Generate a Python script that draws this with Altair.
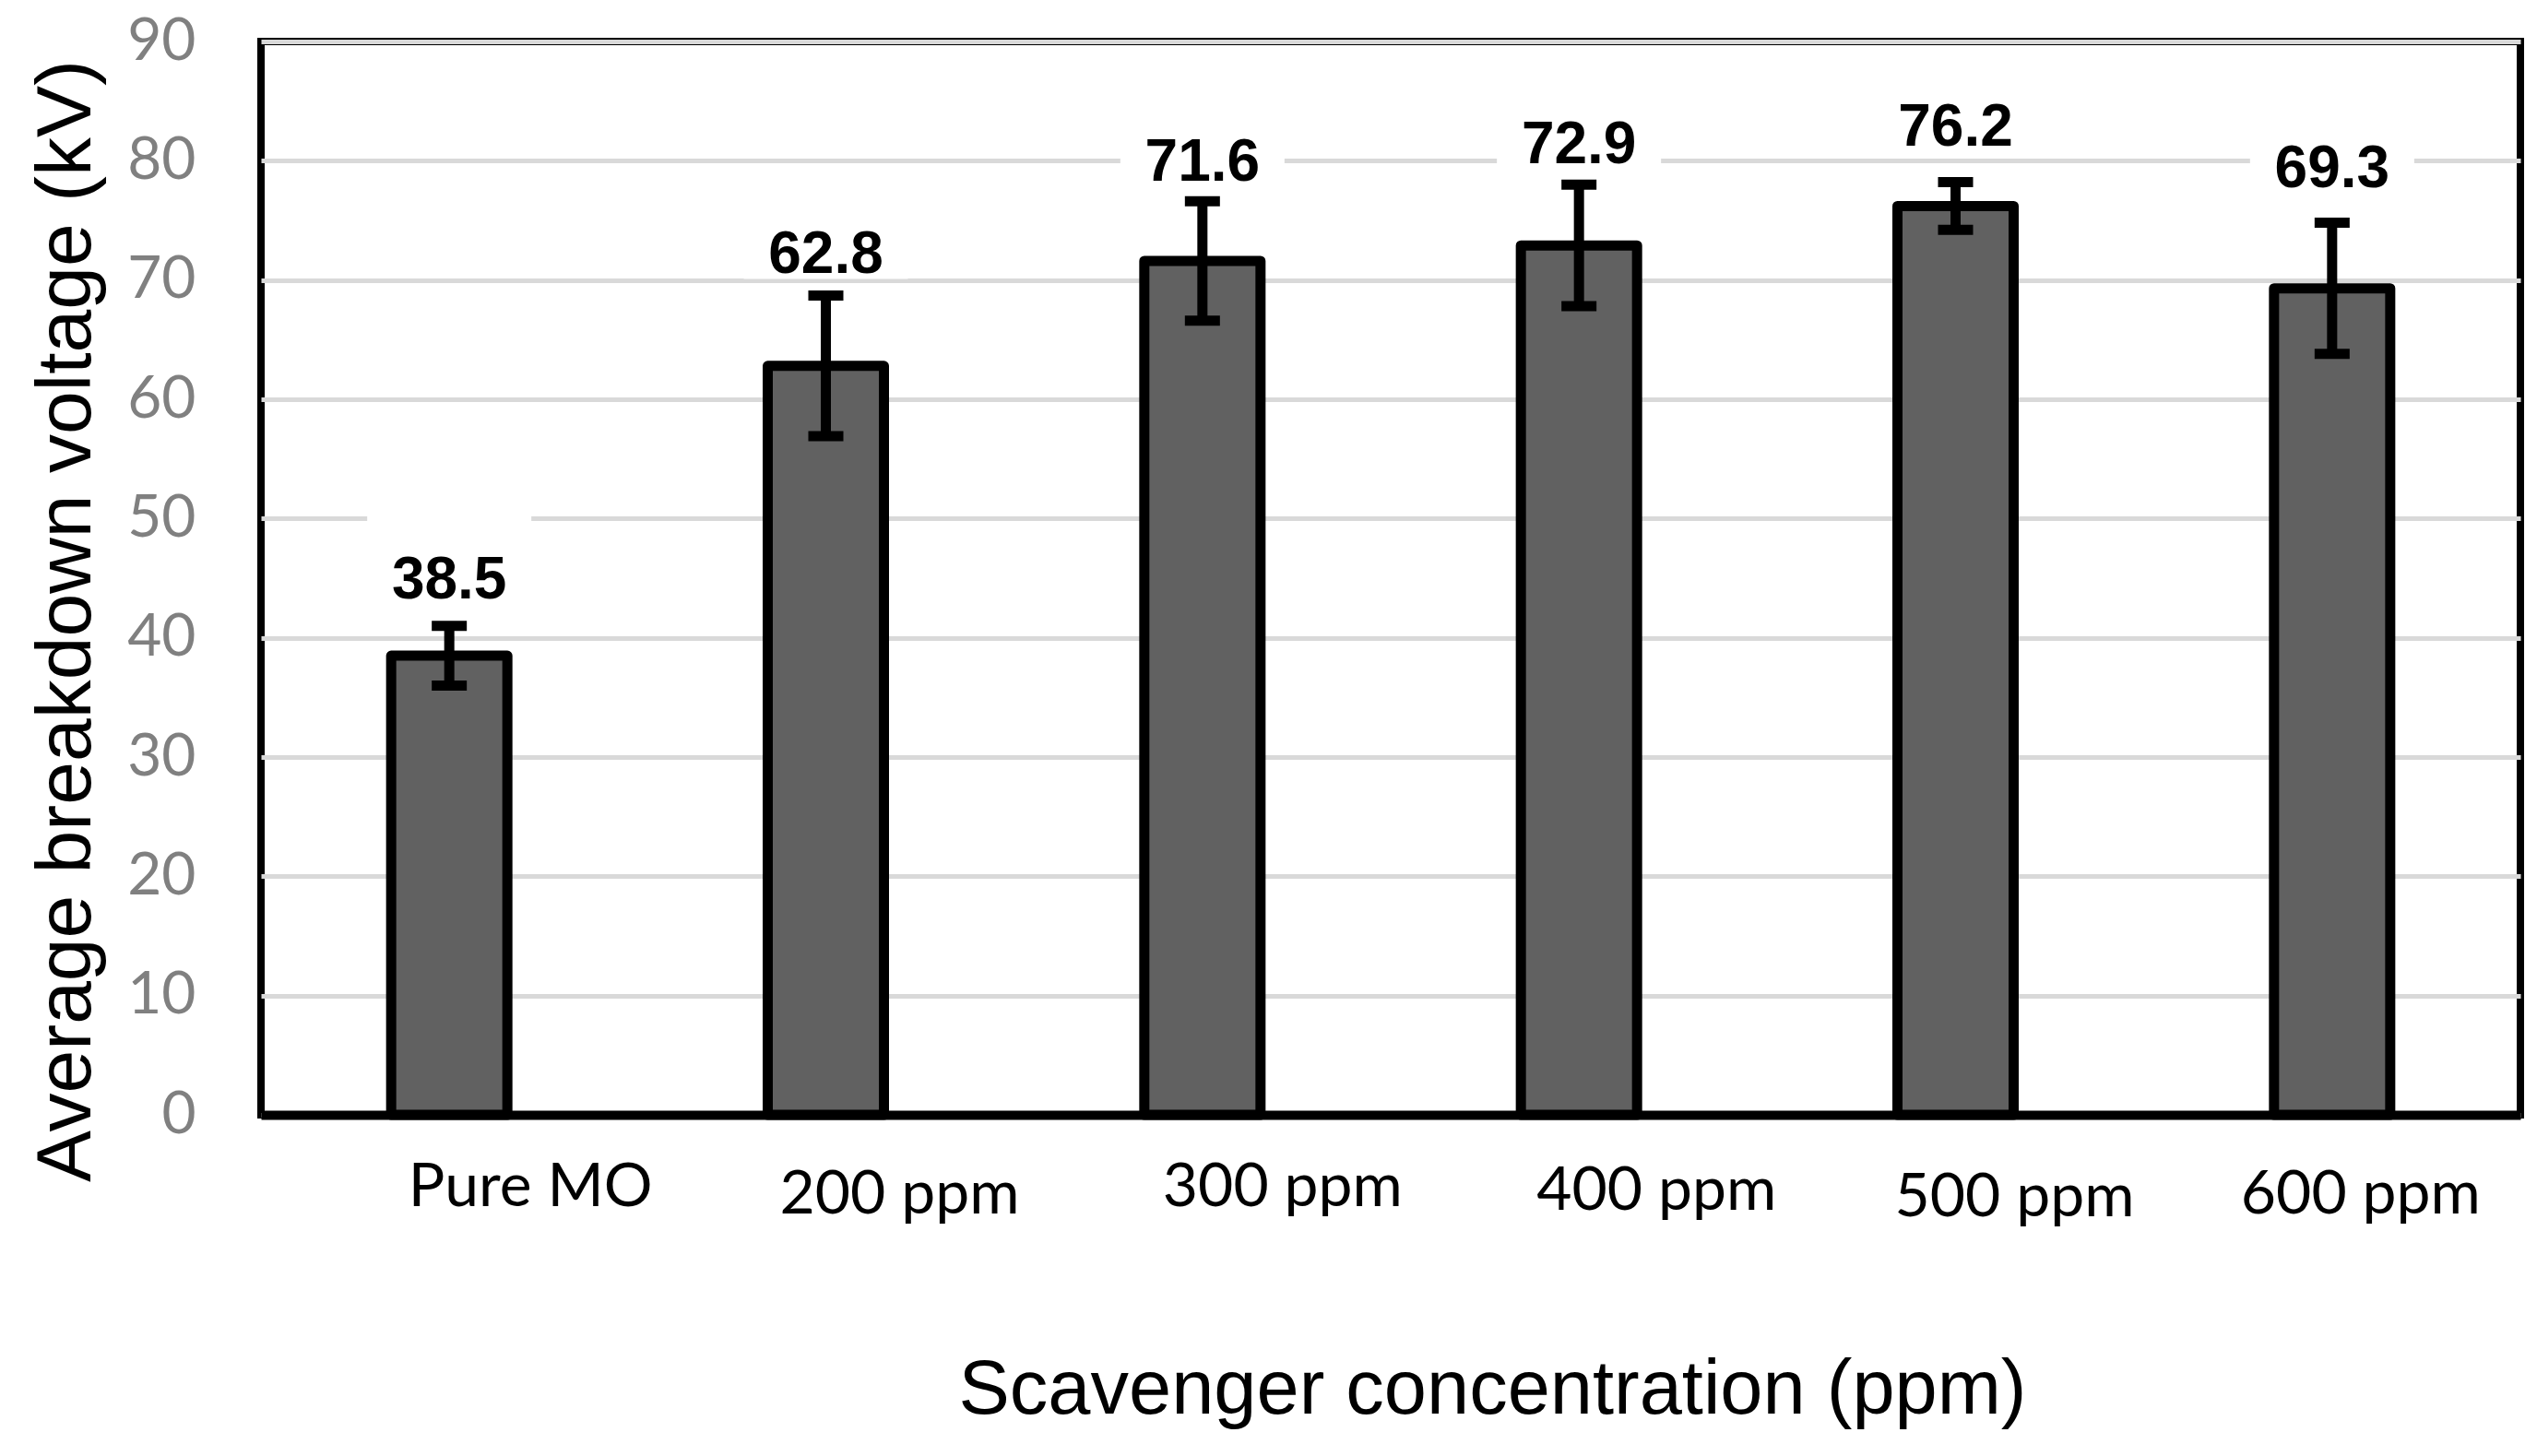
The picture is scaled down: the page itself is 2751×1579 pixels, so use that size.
import altair as alt
import pandas as pd

# ---- data ----
categories = ["Pure MO", "200 ppm", "300 ppm", "400 ppm", "500 ppm", "600 ppm"]
means = [38.5, 62.8, 71.6, 72.9, 76.2, 69.3]
errors = [2.5, 5.9, 5.0, 5.1, 2.0, 5.5]
y_ticks = [0, 10, 20, 30, 40, 50, 60, 70, 80, 90]

df = pd.DataFrame({"cat": categories, "v": means, "e": errors})
df["hi"] = df["v"] + df["e"]
df["lo"] = df["v"] - df["e"]
df["label"] = [f"{m:.1f}" for m in means]

# ---- styling (per-label nudges, as placed in the picture) ----
label_dx = {"Pure MO": 88, "200 ppm": 80, "300 ppm": 87, "400 ppm": 84, "500 ppm": 64, "600 ppm": 31}
label_pad = {"Pure MO": 98, "200 ppm": 106, "300 ppm": 98, "400 ppm": 102, "500 ppm": 109, "600 ppm": 106}
value_dy = {"Pure MO": -30, "200 ppm": -24, "300 ppm": -22, "400 ppm": -23, "500 ppm": -40, "600 ppm": -39}


def cond(d, default):
    return {
        "condition": [{"test": f"datum.value == '{k}'", "value": v} for k, v in d.items()],
        "value": default,
    }


def per_cat_expr(d, add=0):
    expr = "0"
    for k, v in reversed(list(d.items())):
        expr = f"(datum.cat == '{k}' ? {v + add} : {expr})"
    return alt.ExprRef(expr)


yscale = alt.Scale(domain=[0, 90], nice=False, zero=True)
xscale = alt.Scale(paddingInner=0, paddingOuter=0)
y_title = "Average breakdown voltage (kV)"

x_axis = alt.Axis(
    title="Scavenger concentration (ppm)",
    labelAngle=0,
    ticks=False,
    tickSize=0,
    domainColor="black",
    domainWidth=10,
    labelFont="Lato",
    labelFontSize=66,
    labelColor="black",
    labelBaseline="alphabetic",
    labelLimit=0,
    labelPadding=cond(label_pad, 104),
    labelOffset=cond(label_dx, 74),
    titleFont="Liberation Sans",
    titleFontSize=83,
    titleFontWeight="normal",
    titleColor="black",
    titleX=1335,
    titleY=323,
    titleAlign="center",
    titleBaseline="alphabetic",
    grid=False,
    zindex=1,
)

y_axis = alt.Axis(
    values=y_ticks,
    title=y_title,
    grid=True,
    gridColor="#d9d9d9",
    gridWidth=5,
    domain=False,
    ticks=False,
    tickSize=0,
    labelFont="Lato",
    labelFontSize=64,
    labelColor="#808080",
    labelPadding=71,
    labelBaseline="middle",
    titleFont="Liberation Sans",
    titleFontSize=84,
    titleFontWeight="normal",
    titleColor="black",
    titleAngle=270,
    titleX=-186,
    titleY=628,
    titleAlign="center",
    titleBaseline="alphabetic",
    zindex=0,
)

base = alt.Chart(df)
X = alt.X("cat:N", sort=categories, scale=xscale, axis=x_axis)


def Y(field):
    return alt.Y(f"{field}:Q", scale=yscale, axis=y_axis, title=y_title)


bars = base.mark_bar(
    width=126, fill="#616161", stroke="black", strokeWidth=11, strokeJoin="round"
).encode(x=X, y=Y("v"))

label_box = base.mark_bar(
    width=178, fill="white",
    yOffset=per_cat_expr(value_dy, -93),
    y2Offset=per_cat_expr(value_dy, 6),
).encode(x=X, y=Y("hi"), y2="hi:Q")

stems = base.mark_rule(color="black", strokeWidth=11).encode(x=X, y=Y("lo"), y2="hi:Q")

caps_hi = base.mark_tick(color="black", size=38, thickness=11, opacity=1, orient="horizontal").encode(
    x=X, y=Y("hi")
)
caps_lo = base.mark_tick(color="black", size=38, thickness=11, opacity=1, orient="horizontal").encode(
    x=X, y=Y("lo")
)

labels = base.mark_text(
    font="Liberation Sans", fontSize=64, fontWeight="bold", color="black",
    baseline="alphabetic", align="center", dy=per_cat_expr(value_dy),
).encode(x=X, y=Y("hi"), text="label:N")

chart = (
    alt.layer(bars, label_box, stems, caps_hi, caps_lo, labels)
    .properties(
        width=2450,
        height=1164,
        padding={"left": 275, "top": 37, "right": 8, "bottom": 354},
        autosize=alt.AutoSizeParams(type="none"),
        background="white",
    )
    .configure_view(stroke="black", strokeWidth=8)
)

chart.save("out.html", embed_options={"renderer": "svg", "actions": False})
